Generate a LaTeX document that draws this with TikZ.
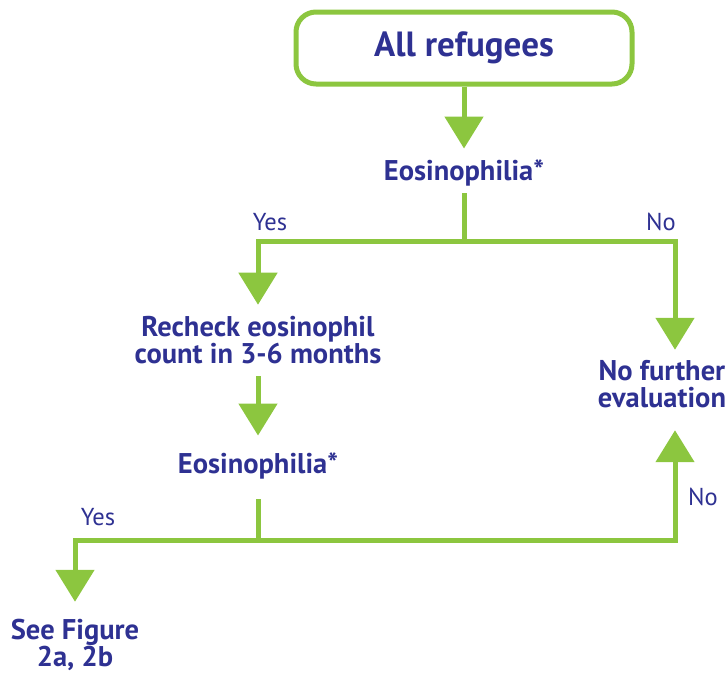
\documentclass[tikz,border=0pt]{standalone}
\usepackage{fontspec}
\setmainfont{PT Sans}
\usetikzlibrary{positioning,arrows.meta}
\definecolor{leaf}{RGB}{140,198,63}
\definecolor{ink}{RGB}{46,49,146}

\begin{document}
\begin{tikzpicture}[x=1pt,y=-1pt]
    \tikzset{
        startbox/.style={draw=leaf,line width=5pt,rounded corners=20pt,minimum width=336pt,minimum height=72pt,text=ink,font=\fontsize{35}{40}\selectfont\bfseries},
        txt/.style={text=ink,inner sep=0pt,align=center,font=\fontsize{28.5}{27.5}\selectfont\bfseries},
        answer/.style={text=ink,inner sep=0pt,font=\fontsize{24.5}{28}\selectfont},
        link/.style={draw=leaf,line width=5pt},
        flow/.style={link,-{Triangle[width=38pt,length=32pt]}},
    }
    \useasboundingbox (0,0) rectangle (727,675);
    \node[startbox] (all) at (464,48) {All refugees};
    \node[txt] (eo1) at (464,173) {Eosinophilia*};
    \node[txt] (recheck) at (258,340) {Recheck eosinophil\\count in 3-6 months};
    \node[txt] (eo2) at (258,466) {Eosinophilia*};
    \node[txt] (nofurther) at (662,384) {No further\\evaluation};
    \node[txt] (seefig) at (75,645) {See Figure\\2a, 2b};
    \coordinate (split1) at (464,241);
    \coordinate (split2) at (258,540);
    % first test
    \draw[flow,shorten >=11pt] (all) -- (eo1);
    \draw[link,shorten <=7pt] (eo1) -- (split1);
    \draw[flow,shorten >=11pt] (split1) -| (recheck);
    \draw[flow,shorten >=10pt] (split1) -| ([xshift=13pt]nofurther.north);
    % second test
    \draw[flow,shorten <=12pt,shorten >=17pt] (recheck) -- (eo2);
    \draw[link,shorten <=20pt] (eo2) -- (split2);
    \draw[flow,shorten >=17pt] (split2) -| (seefig);
    \draw[flow,shorten >=22pt] (split2) -| ([xshift=13pt]nofurther.south);
    \node[answer] (yes1) at (270,222) {Yes};
    \node[answer] (no1) at (661,222) {No};
    \node[answer] (yes2) at (98,517) {Yes};
    \node[answer] (no2) at (703,497) {No};
\end{tikzpicture}
\end{document}
